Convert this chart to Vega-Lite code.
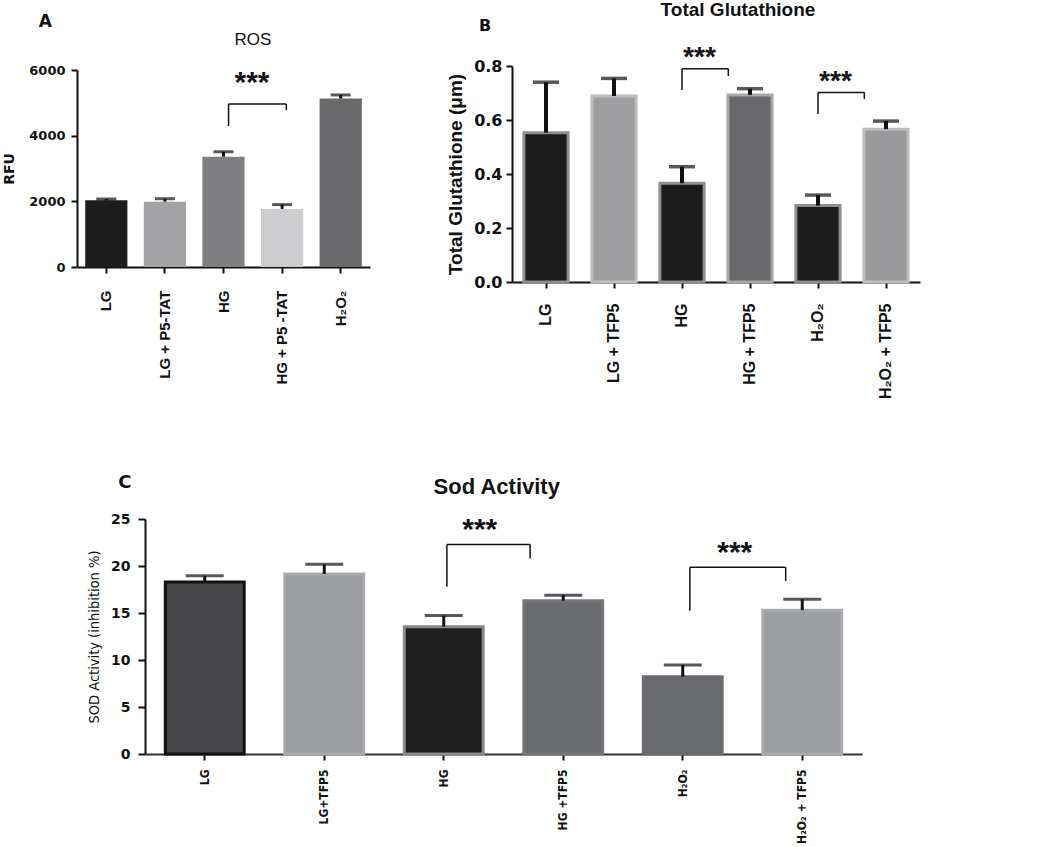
{
  "$schema": "https://vega.github.io/schema/vega-lite/v6.json",
  "width": 1050,
  "height": 847,
  "autosize": {"type": "none"},
  "padding": 0,
  "background": "#ffffff",
  "config": {
    "view": {"stroke": null},
    "axis": {"grid": false, "domainColor": "#111111", "tickColor": "#111111", "labelColor": "#111111", "titleColor": "#111111", "domainWidth": 2, "tickWidth": 2},
    "text": {"font": "Liberation Sans", "color": "#111111"}
  },
  "datasets": {
    "ros": [
      {"group": "LG", "mean": 2030, "upper": 2070},
      {"group": "LG + P5-TAT", "mean": 1990, "upper": 2080},
      {"group": "HG", "mean": 3360, "upper": 3510},
      {"group": "HG + P5 -TAT", "mean": 1770, "upper": 1900},
      {"group": "H₂O₂", "mean": 5130, "upper": 5240}
    ],
    "rosSig": [
      {"a": "HG", "b": "HG + P5 -TAT", "top": 4965, "left": 4295, "right": 4780, "star": 5848}
    ],
    "gsh": [
      {"group": "LG", "mean": 0.553, "upper": 0.74},
      {"group": "LG + TFP5", "mean": 0.689, "upper": 0.754},
      {"group": "HG", "mean": 0.366, "upper": 0.427},
      {"group": "HG + TFP5", "mean": 0.693, "upper": 0.716},
      {"group": "H₂O₂", "mean": 0.283, "upper": 0.322},
      {"group": "H₂O₂ + TFP5", "mean": 0.566, "upper": 0.596}
    ],
    "gshSig": [
      {"a": "HG", "b": "HG + TFP5", "top": 0.79, "left": 0.711, "right": 0.763, "star": 0.857},
      {"a": "H₂O₂", "b": "H₂O₂ + TFP5", "top": 0.702, "left": 0.622, "right": 0.678, "star": 0.767}
    ],
    "sod": [
      {"group": "LG", "mean": 18.3, "upper": 18.97},
      {"group": "LG+TFP5", "mean": 19.15, "upper": 20.18},
      {"group": "HG", "mean": 13.55, "upper": 14.73},
      {"group": "HG +TFP5", "mean": 16.3, "upper": 16.9},
      {"group": "H₂O₂", "mean": 8.22, "upper": 9.47},
      {"group": "H₂O₂ + TFP5", "mean": 15.3, "upper": 16.46}
    ],
    "sodSig": [
      {"id": 1, "a": "HG", "b": "HG +TFP5", "top": 22.3, "left": 17.8, "right": 20.8, "star": 24.71},
      {"id": 2, "a": "H₂O₂", "b": "H₂O₂ + TFP5", "top": 19.86, "left": 15.25, "right": 18.4, "star": 22.23}
    ]
  },
  "layer": [
    {
      "data": {"name": "ros"},
      "layer": [
        {
          "mark": {"type": "bar"},
          "encoding": {
            "x": {"field": "group", "type": "nominal", "sort": null,
              "scale": {"domain": ["LG", "LG + P5-TAT", "HG", "HG + P5 -TAT", "H₂O₂"], "range": [77, 370], "paddingInner": 0.28, "paddingOuter": 0.14},
              "axis": {"orient": "bottom", "offset": -580, "title": null, "labelAngle": -90, "labelAlign": "right", "labelBaseline": "middle", "labelFont": "Liberation Sans", "labelFontWeight": "bold", "labelFontSize": 15, "labelPadding": 17, "tickSize": 6}},
            "y": {"field": "mean", "type": "quantitative",
              "scale": {"domain": [0, 6000], "range": [267, 70], "nice": false, "zero": true},
              "axis": {"orient": "left", "offset": -77, "values": [0, 2000, 4000, 6000], "format": "d", "title": "RFU", "labelFont": "DejaVu Sans", "labelFontWeight": "bold", "labelFontSize": 13, "labelPadding": 6, "tickSize": 6, "titleFont": "DejaVu Sans", "titleFontWeight": "bold", "titleFontSize": 14, "titlePadding": 12}},
            "color": {"field": "group", "type": "nominal", "legend": null,
              "scale": {"domain": ["LG", "LG + P5-TAT", "HG", "HG + P5 -TAT", "H₂O₂"], "range": ["#1d1d1d", "#a3a3a5", "#7f7f82", "#cdcdcf", "#69696c"]}}
          }
        },
        {
          "mark": {"type": "rule", "strokeWidth": 3, "color": "#111111"},
          "encoding": {
            "x": {"field": "group", "type": "nominal"},
            "y": {"field": "mean", "type": "quantitative"},
            "y2": {"field": "upper"}
          }
        },
        {
          "mark": {"type": "tick", "thickness": 3, "size": 20, "color": "#111111"},
          "encoding": {
            "x": {"field": "group", "type": "nominal"},
            "y": {"field": "upper", "type": "quantitative"}
          }
        },
        {
          "data": {"name": "rosSig"},
          "mark": {"type": "rule", "strokeWidth": 1.5, "color": "#111111"},
          "encoding": {
            "x": {"field": "a", "type": "nominal", "bandPosition": 0.62},
            "x2": {"field": "b", "bandPosition": 0.6},
            "y": {"field": "top", "type": "quantitative"}
          }
        },
        {
          "data": {"name": "rosSig"},
          "mark": {"type": "rule", "strokeWidth": 1.5, "color": "#111111"},
          "encoding": {
            "x": {"field": "a", "type": "nominal", "bandPosition": 0.62},
            "y": {"field": "left", "type": "quantitative"},
            "y2": {"field": "top"}
          }
        },
        {
          "data": {"name": "rosSig"},
          "mark": {"type": "rule", "strokeWidth": 1.5, "color": "#111111"},
          "encoding": {
            "x": {"field": "b", "type": "nominal", "bandPosition": 0.6},
            "y": {"field": "right", "type": "quantitative"},
            "y2": {"field": "top"}
          }
        },
        {
          "data": {"name": "rosSig"},
          "mark": {"type": "text", "text": "***", "fontSize": 30, "fontWeight": "bold", "dx": 28.5, "dy": 8, "baseline": "middle", "align": "center"},
          "encoding": {
            "x": {"field": "a", "type": "nominal"},
            "y": {"field": "star", "type": "quantitative"}
          }
        },
        {
          "data": {"values": [{}]},
          "mark": {"type": "text", "text": "ROS", "fontSize": 17, "dx": 29.5, "baseline": "middle", "align": "center"},
          "encoding": {
            "x": {"datum": "HG", "type": "nominal"},
            "y": {"datum": 6914, "type": "quantitative"}
          }
        },
        {
          "data": {"values": [{}]},
          "mark": {"type": "text", "text": "A", "font": "DejaVu Sans", "fontSize": 17, "fontWeight": "bold", "dx": -61, "baseline": "middle", "align": "center"},
          "encoding": {
            "x": {"datum": "LG", "type": "nominal"},
            "y": {"datum": 7462, "type": "quantitative"}
          }
        }
      ]
    },
    {
      "data": {"name": "gsh"},
      "layer": [
        {
          "mark": {"type": "bar", "strokeWidth": 3},
          "encoding": {
            "x": {"field": "group", "type": "nominal", "sort": null,
              "scale": {"domain": ["LG", "LG + TFP5", "HG", "HG + TFP5", "H₂O₂", "H₂O₂ + TFP5"], "range": [512, 920], "paddingInner": 0.35, "paddingOuter": 0.175},
              "axis": {"orient": "bottom", "offset": -565, "title": null, "labelAngle": -90, "labelAlign": "right", "labelBaseline": "middle", "labelFont": "Liberation Sans", "labelFontWeight": "bold", "labelFontSize": 16, "labelPadding": 15, "tickSize": 6}},
            "y": {"field": "mean", "type": "quantitative",
              "scale": {"domain": [0, 0.8], "range": [282, 66], "nice": false, "zero": true},
              "axis": {"orient": "left", "offset": -512, "values": [0, 0.2, 0.4, 0.6, 0.8], "format": ".1f", "title": "Total Glutathione (μm)", "labelFont": "DejaVu Sans", "labelFontWeight": "bold", "labelFontSize": 16, "labelPadding": 4, "tickSize": 6, "titleFont": "Liberation Sans", "titleFontWeight": "bold", "titleFontSize": 19, "titlePadding": 8}},
            "color": {"field": "group", "type": "nominal", "legend": null,
              "scale": {"domain": ["LG", "LG + TFP5", "HG", "HG + TFP5", "H₂O₂", "H₂O₂ + TFP5"], "range": ["#1b1b1b", "#9e9ea0", "#1b1b1b", "#69696b", "#1b1b1b", "#9a9a9c"]}},
            "stroke": {"field": "group", "type": "nominal", "legend": null,
              "scale": {"domain": ["LG", "LG + TFP5", "HG", "HG + TFP5", "H₂O₂", "H₂O₂ + TFP5"], "range": ["#8e8e90", "#bdbdbf", "#8e8e90", "#a8a8aa", "#8e8e90", "#bdbdbf"]}}
          }
        },
        {
          "mark": {"type": "rule", "strokeWidth": 4, "color": "#111111"},
          "encoding": {
            "x": {"field": "group", "type": "nominal"},
            "y": {"field": "mean", "type": "quantitative"},
            "y2": {"field": "upper"}
          }
        },
        {
          "mark": {"type": "tick", "thickness": 3.5, "size": 26, "color": "#111111"},
          "encoding": {
            "x": {"field": "group", "type": "nominal"},
            "y": {"field": "upper", "type": "quantitative"}
          }
        },
        {
          "data": {"name": "gshSig"},
          "mark": {"type": "rule", "strokeWidth": 1.5, "color": "#111111"},
          "encoding": {
            "x": {"field": "a", "type": "nominal", "bandPosition": 0.5},
            "x2": {"field": "b", "bandPosition": 0.01},
            "y": {"field": "top", "type": "quantitative"}
          }
        },
        {
          "data": {"name": "gshSig"},
          "mark": {"type": "rule", "strokeWidth": 1.5, "color": "#111111"},
          "encoding": {
            "x": {"field": "a", "type": "nominal", "bandPosition": 0.5},
            "y": {"field": "left", "type": "quantitative"},
            "y2": {"field": "top"}
          }
        },
        {
          "data": {"name": "gshSig"},
          "mark": {"type": "rule", "strokeWidth": 1.5, "color": "#111111"},
          "encoding": {
            "x": {"field": "b", "type": "nominal", "bandPosition": 0.01},
            "y": {"field": "right", "type": "quantitative"},
            "y2": {"field": "top"}
          }
        },
        {
          "data": {"name": "gshSig"},
          "mark": {"type": "text", "text": "***", "fontSize": 28, "fontWeight": "bold", "dx": 17.5, "dy": 7.5, "baseline": "middle", "align": "center"},
          "encoding": {
            "x": {"field": "a", "type": "nominal"},
            "y": {"field": "star", "type": "quantitative"}
          }
        },
        {
          "data": {"values": [{}]},
          "mark": {"type": "text", "text": "Total Glutathione", "fontSize": 19, "fontWeight": "bold", "dx": -12, "baseline": "middle", "align": "center"},
          "encoding": {
            "x": {"datum": "HG + TFP5", "type": "nominal"},
            "y": {"datum": 1.0074, "type": "quantitative"}
          }
        },
        {
          "data": {"values": [{}]},
          "mark": {"type": "text", "text": "B", "font": "DejaVu Sans", "fontSize": 16, "fontWeight": "bold", "dx": -61, "baseline": "middle", "align": "center"},
          "encoding": {
            "x": {"datum": "LG", "type": "nominal"},
            "y": {"datum": 0.948, "type": "quantitative"}
          }
        }
      ]
    },
    {
      "data": {"name": "sod"},
      "layer": [
        {
          "mark": {"type": "bar", "strokeWidth": 3},
          "encoding": {
            "x": {"field": "group", "type": "nominal", "sort": null,
              "scale": {"domain": ["LG", "LG+TFP5", "HG", "HG +TFP5", "H₂O₂", "H₂O₂ + TFP5"], "range": [145, 862], "paddingInner": 0.34, "paddingOuter": 0.17},
              "axis": {"orient": "bottom", "offset": -93, "title": null, "labelAngle": -90, "labelAlign": "right", "labelBaseline": "middle", "labelFont": "DejaVu Sans Condensed, Liberation Sans", "labelFontWeight": "bold", "labelFontSize": 12, "labelPadding": 9, "tickSize": 6, "domainColor": "#333333"}},
            "y": {"field": "mean", "type": "quantitative",
              "scale": {"domain": [0, 25], "range": [754, 519], "nice": false, "zero": true},
              "axis": {"orient": "left", "offset": -145, "values": [0, 5, 10, 15, 20, 25], "title": "SOD Activity (inhibition %)", "labelFont": "DejaVu Sans", "labelFontWeight": "bold", "labelFontSize": 14, "labelPadding": 8, "tickSize": 7, "titleFont": "DejaVu Sans Condensed, Liberation Sans", "titleFontWeight": "normal", "titleFontSize": 14.5, "titlePadding": 9}},
            "color": {"field": "group", "type": "nominal", "legend": null,
              "scale": {"domain": ["LG", "LG+TFP5", "HG", "HG +TFP5", "H₂O₂", "H₂O₂ + TFP5"], "range": ["#474749", "#9c9da0", "#1f1f1f", "#6b6c6f", "#6a6b6e", "#9d9ea1"]}},
            "stroke": {"field": "group", "type": "nominal", "legend": null,
              "scale": {"domain": ["LG", "LG+TFP5", "HG", "HG +TFP5", "H₂O₂", "H₂O₂ + TFP5"], "range": ["#111111", "#a9aaac", "#8a8a8c", "#76777a", "#6a6b6e", "#a9aaac"]}}
          }
        },
        {
          "mark": {"type": "rule", "strokeWidth": 3, "color": "#111111"},
          "encoding": {
            "x": {"field": "group", "type": "nominal"},
            "y": {"field": "mean", "type": "quantitative"},
            "y2": {"field": "upper"}
          }
        },
        {
          "mark": {"type": "tick", "thickness": 3, "size": 38, "color": "#111111"},
          "encoding": {
            "x": {"field": "group", "type": "nominal"},
            "y": {"field": "upper", "type": "quantitative"}
          }
        },
        {
          "data": {"name": "sodSig"},
          "transform": [{"filter": "datum.id == 1"}],
          "layer": [
            {
              "mark": {"type": "rule", "strokeWidth": 1.5, "color": "#111111"},
              "encoding": {
                "x": {"field": "a", "type": "nominal", "bandPosition": 0.54},
                "x2": {"field": "b", "bandPosition": 0.08},
                "y": {"field": "top", "type": "quantitative"}
              }
            },
            {
              "mark": {"type": "rule", "strokeWidth": 1.5, "color": "#111111"},
              "encoding": {
                "x": {"field": "a", "type": "nominal", "bandPosition": 0.54},
                "y": {"field": "left", "type": "quantitative"},
                "y2": {"field": "top"}
              }
            },
            {
              "mark": {"type": "rule", "strokeWidth": 1.5, "color": "#111111"},
              "encoding": {
                "x": {"field": "b", "type": "nominal", "bandPosition": 0.08},
                "y": {"field": "right", "type": "quantitative"},
                "y2": {"field": "top"}
              }
            },
            {
              "mark": {"type": "text", "text": "***", "fontSize": 30, "fontWeight": "bold", "dx": 36, "dy": 8, "baseline": "middle", "align": "center"},
              "encoding": {
                "x": {"field": "a", "type": "nominal"},
                "y": {"field": "star", "type": "quantitative"}
              }
            }
          ]
        },
        {
          "data": {"name": "sodSig"},
          "transform": [{"filter": "datum.id == 2"}],
          "layer": [
            {
              "mark": {"type": "rule", "strokeWidth": 1.5, "color": "#111111"},
              "encoding": {
                "x": {"field": "a", "type": "nominal", "bandPosition": 0.59},
                "x2": {"field": "b", "bandPosition": 0.29},
                "y": {"field": "top", "type": "quantitative"}
              }
            },
            {
              "mark": {"type": "rule", "strokeWidth": 1.5, "color": "#111111"},
              "encoding": {
                "x": {"field": "a", "type": "nominal", "bandPosition": 0.59},
                "y": {"field": "left", "type": "quantitative"},
                "y2": {"field": "top"}
              }
            },
            {
              "mark": {"type": "rule", "strokeWidth": 1.5, "color": "#111111"},
              "encoding": {
                "x": {"field": "b", "type": "nominal", "bandPosition": 0.29},
                "y": {"field": "right", "type": "quantitative"},
                "y2": {"field": "top"}
              }
            },
            {
              "mark": {"type": "text", "text": "***", "fontSize": 30, "fontWeight": "bold", "dx": 52, "dy": 8, "baseline": "middle", "align": "center"},
              "encoding": {
                "x": {"field": "a", "type": "nominal"},
                "y": {"field": "star", "type": "quantitative"}
              }
            }
          ]
        },
        {
          "data": {"values": [{}]},
          "mark": {"type": "text", "text": "Sod Activity", "fontSize": 22, "fontWeight": "bold", "dx": 53, "baseline": "middle", "align": "center"},
          "encoding": {
            "x": {"datum": "HG", "type": "nominal"},
            "y": {"datum": 28.4, "type": "quantitative"}
          }
        },
        {
          "data": {"values": [{}]},
          "mark": {"type": "text", "text": "C", "font": "DejaVu Sans", "fontSize": 18, "fontWeight": "bold", "dx": -80, "baseline": "middle", "align": "center"},
          "encoding": {
            "x": {"datum": "LG", "type": "nominal"},
            "y": {"datum": 28.83, "type": "quantitative"}
          }
        }
      ]
    }
  ],
  "resolve": {
    "scale": {"x": "independent", "y": "independent", "color": "independent", "stroke": "independent"},
    "axis": {"x": "independent", "y": "independent"},
    "legend": {"color": "independent", "stroke": "independent"}
  }
}
